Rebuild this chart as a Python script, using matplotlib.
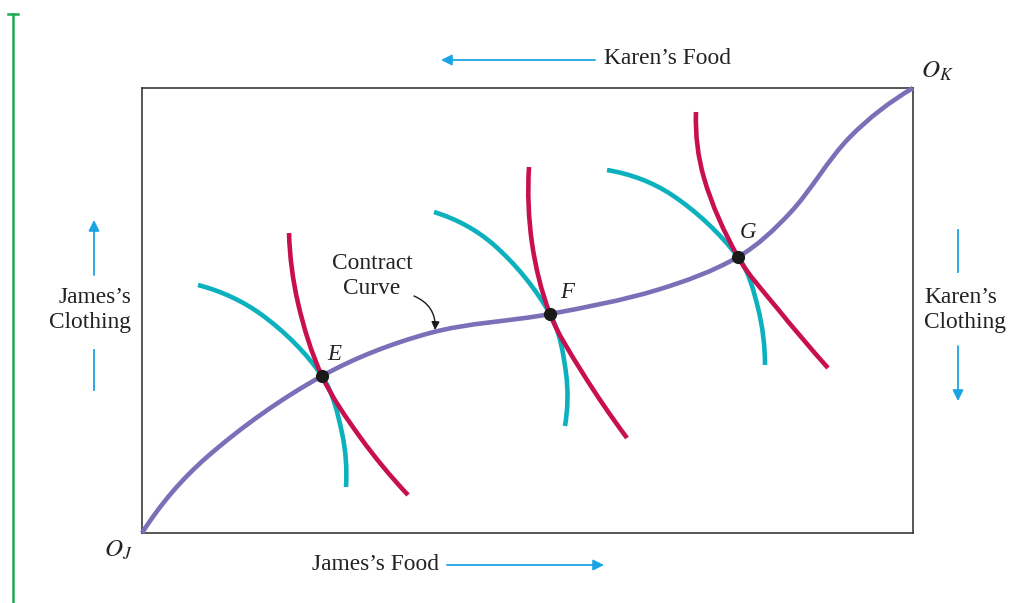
import numpy as np
import matplotlib
matplotlib.use("Agg")
import matplotlib.pyplot as plt
from matplotlib.path import Path
from matplotlib.patches import PathPatch

# ---- data (box units: x = food for James, y = clothing for James) ----
box_w, box_h = 771, 445

contract_x = [0, 65, 180, 288, 408, 515, 596, 648, 708, 771]
contract_y = [0, 76, 157, 200, 219, 243, 276, 320, 396, 445]

james_E_x = [56, 120, 180, 200, 204]
james_E_y = [248, 218, 157, 100, 46]
karen_E_x = [147, 156, 180, 218, 266]
karen_E_y = [300, 230, 157, 96, 38]

james_F_x = [292, 352, 408, 424, 423]
james_F_y = [321, 288, 219, 160, 107]
karen_F_x = [387, 390, 408, 440, 485]
karen_F_y = [366, 290, 219, 161, 95]

james_G_x = [465, 530, 596, 616, 623]
james_G_y = [363, 338, 276, 225, 168]
karen_G_x = [554, 562, 596, 635, 686]
karen_G_y = [421, 355, 276, 225, 165]

point_names = ["E", "F", "G"]
point_x = [180, 408, 596]
point_y = [157, 219, 276]

PURPLE = "#7a70b8"
CYAN = "#0bb1bd"
RED = "#c8104f"
BLUE = "#1aa5e2"
GREEN = "#1aab4f"
TEXT = "#222222"

plt.rcParams["font.family"] = ["Liberation Serif", "DejaVu Serif"]
plt.rcParams["mathtext.fontset"] = "stix"


def smooth_path(xs, ys):
    """Smooth Bezier path through the read points (chord-length tangents)."""
    pts = np.column_stack([xs, ys]).astype(float)
    n = len(pts)
    seg = np.linalg.norm(np.diff(pts, axis=0), axis=1)
    tang = np.zeros_like(pts)
    for i in range(1, n - 1):
        tang[i] = (pts[i + 1] - pts[i - 1]) / (seg[i] + seg[i - 1])
    d0 = (pts[1] - pts[0]) / seg[0]
    d1 = (pts[-1] - pts[-2]) / seg[-1]
    tang[0] = 2 * d0 - tang[1] if n > 2 else d0
    tang[-1] = 2 * d1 - tang[-2] if n > 2 else d1
    verts = [pts[0]]
    codes = [Path.MOVETO]
    for i in range(n - 1):
        L = seg[i]
        verts += [pts[i] + tang[i] * L / 3.0, pts[i + 1] - tang[i + 1] * L / 3.0, pts[i + 1]]
        codes += [Path.CURVE4] * 3
    return Path(verts, codes)


fig = plt.figure(figsize=(10.32, 6.03), dpi=100)
ax = fig.add_axes([142 / 1032, 70 / 603, 771 / 1032, 445 / 603])
ax.set_xlim(0, box_w)
ax.set_ylim(0, box_h)
ax.set_xticks([])
ax.set_yticks([])
for s in ax.spines.values():
    s.set_color("#3a3a3a")
    s.set_linewidth(1.2)

lw = 3.3
for xs, ys in [(james_E_x, james_E_y), (james_F_x, james_F_y), (james_G_x, james_G_y)]:
    ax.add_patch(PathPatch(smooth_path(xs, ys), fill=False, edgecolor=CYAN, lw=lw,
                           capstyle="butt", zorder=2))
for xs, ys in [(karen_E_x, karen_E_y), (karen_F_x, karen_F_y), (karen_G_x, karen_G_y)]:
    ax.add_patch(PathPatch(smooth_path(xs, ys), fill=False, edgecolor=RED, lw=lw,
                           capstyle="butt", zorder=3))
ax.add_patch(PathPatch(smooth_path(contract_x, contract_y), fill=False, edgecolor=PURPLE,
                       lw=lw, capstyle="butt", zorder=4, clip_on=False))

ax.plot(point_x, point_y, "o", color="#1a1a1a", markersize=8.5, zorder=5)
label_off = [(5, 22), (10, 21), (2, 25)]
for name, x, y, (dx, dy) in zip(point_names, point_x, point_y, label_off):
    ax.text(x + dx, y + dy, name, fontsize=16.5, fontstyle="italic", color=TEXT,
            ha="left", va="center")

# origin labels
ax.text(-24, -17, r"$O_J$", fontsize=18, color=TEXT, ha="center", va="center")
ax.text(795, 462, r"$O_K$", fontsize=18, color=TEXT, ha="center", va="center")

# axis descriptions
fs = 16.8
arrow_kw = dict(arrowstyle="-|>", color=BLUE, lw=1.3, mutation_scale=16, shrinkA=0, shrinkB=0)
ax.text(525, 475, "Karen\u2019s Food", fontsize=fs, color=TEXT, ha="center", va="center",
        clip_on=False)
ax.annotate("", xy=(299, 473), xytext=(453, 473), annotation_clip=False, arrowprops=arrow_kw)
ax.text(234, -32, "James\u2019s Food", fontsize=fs, color=TEXT, ha="center", va="center",
        clip_on=False)
ax.annotate("", xy=(462, -32), xytext=(305, -32), annotation_clip=False, arrowprops=arrow_kw)

ax.text(-11, 223, "James\u2019s\nClothing", fontsize=fs, color=TEXT, ha="right", va="center",
        multialignment="right", linespacing=1.25, clip_on=False)
ax.annotate("", xy=(-48, 313), xytext=(-48, 258), annotation_clip=False, arrowprops=arrow_kw)
ax.plot([-48, -48], [183, 143], color=BLUE, lw=1.3, clip_on=False)

ax.text(782, 223, "Karen\u2019s\nClothing", fontsize=fs, color=TEXT, ha="left", va="center",
        multialignment="left", linespacing=1.25, clip_on=False)
ax.plot([816, 816], [303, 261], color=BLUE, lw=1.3, clip_on=False)
ax.annotate("", xy=(816, 132), xytext=(816, 187), annotation_clip=False, arrowprops=arrow_kw)

# contract curve label
ax.text(230, 257, "Contract\nCurve", fontsize=fs, color=TEXT, ha="center", va="center",
        multialignment="center", linespacing=1.25)
ax.annotate("", xy=(293, 203), xytext=(272, 237),
            arrowprops=dict(arrowstyle="-|>", color="#1a1a1a", lw=1.0, mutation_scale=12,
                            shrinkA=0, shrinkB=0, connectionstyle="arc3,rad=-0.35"))

# green marker bar on the left
ax.plot([-129, -129], [519, -75], color=GREEN, lw=1.8, clip_on=False)
ax.plot([-134, -124], [519, 519], color=GREEN, lw=1.8, clip_on=False)

fig.savefig("out.png", dpi=100)
